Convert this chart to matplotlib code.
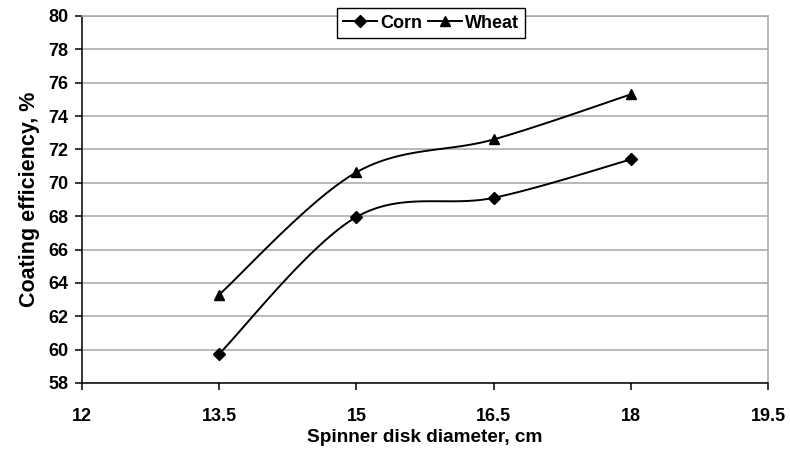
import numpy as np
import matplotlib.pyplot as plt
from matplotlib.lines import Line2D

diameter = [13.5, 15, 16.5, 18]
corn = [59.75, 67.95, 69.1, 71.4]
wheat = [63.3, 70.63, 72.6, 75.3]

x_ticks = [12, 13.5, 15, 16.5, 18, 19.5]
y_ticks = list(range(58, 81, 2))

plt.rcParams.update({
    "font.family": ["Liberation Sans", "DejaVu Sans"],
    "font.weight": "bold",
    "font.size": 13,
})


def smooth(xs, ys, n=40):
    # Excel-style smoothed line: cubic Bezier between points, Catmull-Rom tangents
    p = np.column_stack([xs, ys]).astype(float)
    out = []
    for i in range(len(p) - 1):
        p0 = p[i - 1] if i > 0 else p[i]
        p1, p2 = p[i], p[i + 1]
        p3 = p[i + 2] if i + 2 < len(p) else p[i + 1]
        c1 = p1 + (p2 - p0) / 6
        c2 = p2 - (p3 - p1) / 6
        t = np.linspace(0, 1, n)[:, None]
        seg = ((1 - t) ** 3) * p1 + 3 * ((1 - t) ** 2) * t * c1 + 3 * (1 - t) * t ** 2 * c2 + t ** 3 * p2
        out.append(seg if i == 0 else seg[1:])
    pts = np.vstack(out)
    return pts[:, 0], pts[:, 1]


fig = plt.figure(figsize=(7.9, 4.5), dpi=100)
ax = fig.add_axes([82 / 790, 1 - 383 / 450, 686 / 790, 367 / 450])

for ys, mk, ms in [(corn, "D", 6), (wheat, "^", 7.5)]:
    sx, sy = smooth(diameter, ys)
    ax.plot(sx, sy, color="black", lw=1.4, zorder=3)
    ax.plot(diameter, ys, ls="none", marker=mk, ms=ms, color="black", zorder=4)

ax.set_xlim(12, 19.5)
ax.set_ylim(58, 80)
ax.set_xticks(x_ticks)
ax.set_xticklabels([f"{v:g}" for v in x_ticks])
ax.set_yticks(y_ticks)
ax.grid(axis="y", color="#a6a6a6", lw=1.1)
ax.set_axisbelow(True)

for s in ["top", "right"]:
    ax.spines[s].set_color("#a6a6a6")
    ax.spines[s].set_linewidth(1.1)
for s in ["left", "bottom"]:
    ax.spines[s].set_color("black")
    ax.spines[s].set_linewidth(1.1)
ax.tick_params(direction="out", length=5, width=1.1, colors="black", labelsize=13, pad=5)
ax.tick_params(axis="x", pad=13)

ax.set_xlabel("Spinner disk diameter, cm", fontsize=13.7, fontweight="bold", labelpad=3)
ax.set_ylabel("Coating efficiency, %", fontsize=15.5, fontweight="bold", labelpad=6)

handles = [
    Line2D([], [], color="black", lw=1.4, marker="D", ms=6),
    Line2D([], [], color="black", lw=1.4, marker="^", ms=7),
]
fig.legend(handles, ["Corn", "Wheat"], loc="center", bbox_to_anchor=(431 / 790, 1 - 23 / 450),
           ncol=2, frameon=True, fancybox=False, edgecolor="black", framealpha=1,
           handlelength=1.9, handletextpad=0.15, columnspacing=0.35, borderpad=0.35,
           borderaxespad=0.2, prop={"weight": "bold", "size": 13})

fig.savefig("out.png", dpi=100)
